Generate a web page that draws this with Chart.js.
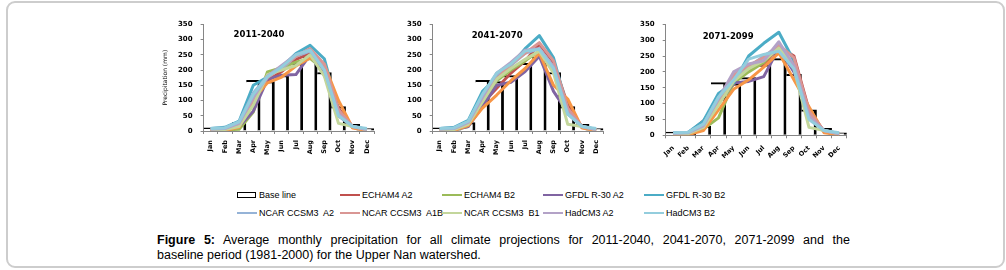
<!DOCTYPE html>
<html>
<head>
<meta charset="utf-8">
<script src="https://cdn.jsdelivr.net/npm/chart.js@4.4.1/dist/chart.umd.min.js"></script>
<style>
  body { margin: 0; width: 1006px; height: 270px; background: #fff; position: relative; overflow: hidden;
         font-family: "Liberation Sans", Arial, sans-serif; }
  .frame { position: absolute; left: 6px; top: 1px; width: 995px; height: 263px;
           border: 2px solid #cdcdcd; border-radius: 9px; }
  canvas { position: absolute; }
  .item { position: absolute; font-size: 9px; line-height: 10px; color: #000; white-space: pre; }
  .item i { position: absolute; left: 0; top: 4px; width: 20px; height: 2px; }
  .item i.box { top: 2px; width: 17px; height: 4px; border: 1px solid #000; background: #fff; }
  .item span { position: absolute; left: 22px; top: 0; }
  .caption { position: absolute; left: 157px; top: 233px; width: 693px; font-size: 12.5px; line-height: 14.5px; color: #000; }
  .caption .l1 { text-align: justify; text-align-last: justify; white-space: nowrap; }
</style>
</head>
<body>
<div class="frame"></div>
<canvas id="p1" width="232" height="162" style="left:150px;top:10px;width:232px;height:162px"></canvas>
<canvas id="p2" width="227" height="162" style="left:385px;top:10px;width:227px;height:162px"></canvas>
<canvas id="p3" width="240" height="165" style="left:615px;top:10px;width:240px;height:165px"></canvas>
<div id="legend"></div>
<div class="caption">
  <div class="l1"><b>Figure 5:</b> Average monthly precipitation for all climate projections for 2011-2040, 2041-2070, 2071-2099 and the</div>
  <div>baseline period (1981-2000) for the Upper Nan watershed.</div>
</div>
<script>
// ── data ─────────────────────────────────────────
const MONTHS = ['Jan', 'Feb', 'Mar', 'Apr', 'May', 'Jun', 'Jul', 'Aug', 'Sep', 'Oct', 'Nov', 'Dec'];
const PERIODS = ['2011-2040', '2041-2070', '2071-2099'];
const Y_TICKS = [0, 50, 100, 150, 200, 250, 300, 350];

// baseline (1981-2000), same in all three panels
const BASELINE = [10, 5, 28, 166, 162, 182, 222, 242, 192, 80, 22, 8];

// 2011-2040
const ECHAM4_A2_1 = [5, 5, 20, 100, 165, 195, 235, 255, 215, 75, 12, 3];
const ECHAM4_B2_1 = [2, 3, 6, 62, 194, 208, 226, 238, 200, 55, 12, 3];
const GFDL_A2_1 = [3, 4, 15, 65, 170, 183, 185, 250, 185, 50, 15, 4];
const GFDL_B2_1 = [8, 12, 32, 150, 177, 210, 254, 281, 237, 65, 15, 5];
const EXTRA_1 = [0, 2, 12, 105, 158, 177, 213, 240, 218, 100, 10, 2];
const NCAR_A2_1 = [8, 10, 30, 125, 180, 205, 245, 262, 205, 55, 15, 6];
const NCAR_A1B_1 = [5, 6, 22, 105, 175, 210, 245, 270, 220, 70, 14, 4];
const NCAR_B1_1 = [4, 5, 15, 85, 185, 200, 215, 250, 180, 25, 15, 5];
const HAD_A2_1 = [6, 8, 25, 110, 180, 215, 250, 265, 200, 55, 15, 5];
const HAD_B2_1 = [8, 10, 30, 120, 178, 210, 250, 265, 200, 50, 15, 8];

// 2041-2070
const ECHAM4_A2_2 = [5, 5, 18, 90, 140, 190, 230, 285, 225, 85, 12, 3];
const ECHAM4_B2_2 = [3, 4, 15, 85, 165, 200, 230, 262, 200, 60, 12, 3];
const GFDL_A2_2 = [3, 4, 15, 80, 150, 160, 195, 245, 130, 60, 15, 4];
const GFDL_B2_2 = [8, 12, 35, 130, 175, 215, 270, 313, 240, 70, 15, 5];
const EXTRA_2 = [0, 2, 18, 75, 118, 165, 205, 255, 150, 105, 10, 2];
const NCAR_A2_2 = [8, 10, 30, 115, 185, 215, 255, 270, 210, 55, 15, 6];
const NCAR_A1B_2 = [5, 6, 25, 100, 170, 220, 255, 290, 230, 75, 14, 4];
const NCAR_B1_2 = [4, 5, 22, 95, 170, 205, 235, 262, 190, 22, 15, 5];
const HAD_A2_2 = [6, 8, 28, 110, 190, 225, 265, 270, 210, 60, 15, 5];
const HAD_B2_2 = [8, 10, 32, 120, 190, 220, 262, 268, 205, 55, 15, 8];

// 2071-2099
const ECHAM4_A2_3 = [5, 6, 45, 110, 160, 220, 222, 280, 250, 80, 12, 3];
const ECHAM4_B2_3 = [3, 4, 20, 55, 165, 200, 230, 280, 220, 60, 12, 3];
const GFDL_A2_3 = [3, 4, 25, 100, 165, 170, 185, 275, 200, 55, 15, 4];
const GFDL_B2_3 = [8, 10, 45, 132, 165, 250, 290, 325, 235, 60, 15, 5];
const EXTRA_3 = [0, 2, 15, 80, 145, 175, 215, 260, 175, 90, 8, 2];
const NCAR_A2_3 = [8, 10, 35, 120, 180, 215, 250, 280, 215, 55, 15, 6];
const NCAR_A1B_3 = [5, 6, 30, 110, 190, 220, 245, 285, 245, 75, 14, 4];
const NCAR_B1_3 = [4, 5, 25, 95, 170, 210, 235, 275, 210, 25, 15, 5];
const HAD_A2_3 = [6, 8, 30, 115, 200, 225, 235, 295, 220, 60, 15, 5];
const HAD_B2_3 = [8, 10, 35, 120, 175, 240, 255, 265, 210, 50, 15, 8];

// series: name (null = no legend entry), colour, values per period
const SERIES = [
  { name: 'ECHAM4 A2', color: '#C0504D', data: [ECHAM4_A2_1, ECHAM4_A2_2, ECHAM4_A2_3] },
  { name: 'ECHAM4 B2', color: '#9BBB59', data: [ECHAM4_B2_1, ECHAM4_B2_2, ECHAM4_B2_3] },
  { name: 'GFDL R-30 A2', color: '#8064A2', data: [GFDL_A2_1, GFDL_A2_2, GFDL_A2_3] },
  { name: 'GFDL R-30 B2', color: '#4BACC6', data: [GFDL_B2_1, GFDL_B2_2, GFDL_B2_3] },
  { name: null, color: '#F79646', data: [EXTRA_1, EXTRA_2, EXTRA_3] },
  { name: 'NCAR CCSM3  A2', color: '#95B3D7', data: [NCAR_A2_1, NCAR_A2_2, NCAR_A2_3] },
  { name: 'NCAR CCSM3  A1B', color: '#D99694', data: [NCAR_A1B_1, NCAR_A1B_2, NCAR_A1B_3] },
  { name: 'NCAR CCSM3  B1', color: '#C3D69B', data: [NCAR_B1_1, NCAR_B1_2, NCAR_B1_3] },
  { name: 'HadCM3 A2', color: '#B3A2C7', data: [HAD_A2_1, HAD_A2_2, HAD_A2_3] },
  { name: 'HadCM3 B2', color: '#93CDDD', data: [HAD_B2_1, HAD_B2_2, HAD_B2_3] },
];

// ── panel layout ─────────────────────────────────
const PANELS = [
  { id: 'p1', yWidth: 53.6, xHeight: 41, padTop: 14.3, padRight: 8, rot: 90, titleDx: 30, titleY: 25, yTitle: true },
  { id: 'p2', yWidth: 47.7, xHeight: 41, padTop: 14.3, padRight: 8.7, rot: 90, titleDx: 39, titleY: 25.5, yTitle: false },
  { id: 'p3', yWidth: 50.7, xHeight: 39.7, padTop: 14.3, padRight: 8.3, rot: 45, titleDx: 37, titleY: 27, yTitle: false },
];

const AXIS = '#868686';
const X_FONT = { family: "'DejaVu Sans', sans-serif", size: 6.5, weight: 'bold' };
const Y_FONT = { family: "'DejaVu Sans', sans-serif", size: 7, weight: 'bold' };

const periodTitle = {
  id: 'periodTitle',
  afterDatasetsDraw(chart, args, opts) {
    const { ctx, chartArea } = chart;
    ctx.save();
    ctx.font = "bold 8.5px 'DejaVu Sans', sans-serif";
    ctx.fillStyle = '#000';
    ctx.textBaseline = 'middle';
    ctx.fillText(opts.text, chartArea.left + opts.dx, opts.y);
    ctx.restore();
  },
};

PANELS.forEach((p, k) => {
  const datasets = [{
    type: 'bar',
    label: 'Base line',
    data: BASELINE,
    backgroundColor: '#fff',
    borderColor: '#000',
    borderWidth: { top: 2, right: 3, bottom: 0, left: 0 },
    borderSkipped: false,
    categoryPercentage: 1,
    barPercentage: 1,
    order: 50,
  }];
  SERIES.forEach((s, i) => {
    datasets.push({
      type: 'line',
      label: s.name || '',
      data: s.data[k],
      borderColor: s.color,
      borderWidth: 3,
      borderJoinStyle: 'round',
      pointRadius: 0,
      fill: false,
      tension: 0,
      order: 20 - i,
    });
  });

  new Chart(document.getElementById(p.id).getContext('2d'), {
    type: 'bar',
    data: { labels: MONTHS, datasets },
    plugins: [periodTitle],
    options: {
      responsive: false,
      animation: false,
      devicePixelRatio: 1,
      layout: { padding: { top: p.padTop, right: p.padRight, bottom: 0, left: 0 } },
      plugins: {
        legend: { display: false },
        tooltip: { enabled: false },
        periodTitle: { text: PERIODS[k], dx: p.titleDx, y: p.titleY },
      },
      scales: {
        x: {
          offset: true,
          afterFit: (sc) => { sc.height = p.xHeight; },
          grid: { offset: true, drawOnChartArea: false, drawTicks: true, tickLength: 3, color: AXIS },
          border: { display: true, color: AXIS, width: 1 },
          ticks: {
            color: '#000', font: X_FONT, padding: 6,
            minRotation: p.rot, maxRotation: p.rot, autoSkip: false,
          },
        },
        y: {
          min: 0,
          max: 350,
          afterFit: (sc) => { sc.width = p.yWidth; },
          afterBuildTicks: (sc) => { sc.ticks = Y_TICKS.map((v) => ({ value: v })); },
          grid: { drawOnChartArea: false, drawTicks: true, tickLength: 3, color: AXIS },
          border: { display: true, color: AXIS, width: 1 },
          ticks: { color: '#000', font: Y_FONT, padding: 8 },
          title: {
            display: p.yTitle,
            text: 'Precipitation (mm)',
            color: '#000',
            font: { family: "'DejaVu Sans', sans-serif", size: 6 },
            padding: { top: 11.4, bottom: 0 },
          },
        },
      },
    },
  });
});

// ── legend ───────────────────────────────────────
const LEGEND_COLS = [237, 340, 442, 543, 644];
const LEGEND_ROWS = [189.5, 208];
const legendItems = [{ name: 'Base line', box: true }].concat(SERIES.filter((s) => s.name));
const legendEl = document.getElementById('legend');
legendItems.forEach((it, n) => {
  const el = document.createElement('div');
  el.className = 'item';
  el.style.left = LEGEND_COLS[n % 5] + 'px';
  el.style.top = LEGEND_ROWS[Math.floor(n / 5)] + 'px';
  const key = document.createElement('i');
  if (it.box) key.className = 'box'; else key.style.background = it.color;
  const txt = document.createElement('span');
  txt.textContent = it.name;
  el.appendChild(key);
  el.appendChild(txt);
  legendEl.appendChild(el);
});
</script>
</body>
</html>
